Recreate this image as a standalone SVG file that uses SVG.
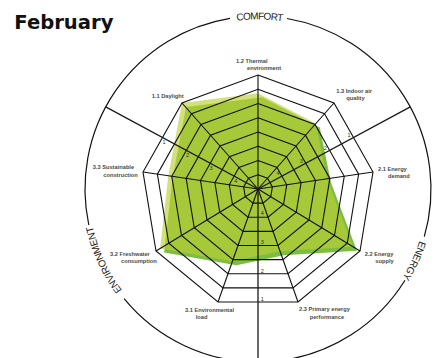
<svg xmlns="http://www.w3.org/2000/svg" width="438" height="358" viewBox="0 0 438 358">
<style>
.ring{fill:none;stroke:#111}
.spoke{stroke:#111;stroke-width:1.1}
.sep{stroke:#1a1a1a;stroke-width:1.3}
.circ{fill:none;stroke:#111;stroke-width:1.2}
.lbl{font-family:"Liberation Sans",Arial,sans-serif;font-size:5.7px;font-weight:bold;fill:#4a4a4a}
.num{font-family:"Liberation Sans",Arial,sans-serif;font-size:5.5px;fill:#333;text-anchor:middle}
.sector{font-family:"Liberation Sans",Arial,sans-serif;font-size:10px;fill:#222;text-anchor:middle}
.title{font-family:"DejaVu Sans",sans-serif;font-weight:bold;font-size:19.6px;fill:#111}
</style>
<defs>
<polygon id="ring" points="0,-114 76,-86 115,-17 102,62 40,113 -40,113 -102,62 -115,-17 -76,-86"/>
<path id="pComfort" d="M174.8,41.3 A169.5,169.5 0 0 1 344.3,43.1"/>
<path id="pEnergy" d="M426.8,173.3 A169.5,169.5 0 0 1 356,327.3"/>
<path id="pEnv" d="M160,327.3 A169.5,169.5 0 0 1 89.2,173.3"/>
</defs>
<rect width="438" height="358" fill="#fff"/>
<g id="title"><text class="title" x="14.3" y="29.3">February</text></g>
<g id="data">
<polygon points="262,97.2 319.8,127.6 331,182.8 356.9,250.7 284,255.2 236.4,265.3 164.1,252.5 172.3,179.7 186,107" fill="#7dbe41"/>
<polygon points="258,93.2 315.8,123.6 327,178.8 352.9,246.7 280,251.2 232.4,261.3 160.1,248.5 168.3,175.7 182,103" fill="#bccf35" fill-opacity="0.65"/>
</g>
<g id="grid">
<use href="#ring" class="ring" transform="translate(258 189) scale(0.125)" stroke-width="8.8"/>
<use href="#ring" class="ring" transform="translate(258 189) scale(0.25)" stroke-width="4.4"/>
<use href="#ring" class="ring" transform="translate(258 189) scale(0.375)" stroke-width="2.933"/>
<use href="#ring" class="ring" transform="translate(258 189) scale(0.5)" stroke-width="2.2"/>
<use href="#ring" class="ring" transform="translate(258 189) scale(0.625)" stroke-width="1.76"/>
<use href="#ring" class="ring" transform="translate(258 189) scale(0.75)" stroke-width="1.467"/>
<use href="#ring" class="ring" transform="translate(258 189) scale(0.875)" stroke-width="1.257"/>
<use href="#ring" class="ring" transform="translate(258 189)" stroke-width="1.1"/>
</g>
<g id="connectors">
<line class="spoke" x1="258" y1="189" x2="258" y2="75"/>
<line class="spoke" x1="258" y1="189" x2="334" y2="103"/>
<line class="spoke" x1="258" y1="189" x2="373" y2="172"/>
<line class="spoke" x1="258" y1="189" x2="360" y2="251"/>
<line class="spoke" x1="258" y1="189" x2="298" y2="302"/>
<line class="spoke" x1="258" y1="189" x2="218" y2="302"/>
<line class="spoke" x1="258" y1="189" x2="156" y2="251"/>
<line class="spoke" x1="258" y1="189" x2="143" y2="172"/>
<line class="spoke" x1="258" y1="189" x2="182" y2="103"/>
<line class="sep" x1="258" y1="189" x2="105.7" y2="106.9"/>
<line class="sep" x1="258" y1="189" x2="410.3" y2="106.9"/>
<line class="sep" x1="258" y1="189" x2="258" y2="362"/>
</g>
<g id="outer-circle">
<path class="circ" d="M287,18.5 A173,173 0 0 1 424.3,236.7"/>
<path class="circ" d="M405,280.2 A173,173 0 0 1 124.1,298.6"/>
<path class="circ" d="M88.8,225 A173,173 0 0 1 230,18.3"/>
</g>
<g id="sector-comfort"><text class="sector"><textPath href="#pComfort" startOffset="50%" textLength="46">COMFORT</textPath></text></g>
<g id="sector-energy"><text class="sector"><textPath href="#pEnergy" startOffset="50%" textLength="41">ENERGY</textPath></text></g>
<g id="sector-environment"><text class="sector"><textPath href="#pEnv" startOffset="50%" textLength="71">ENVIRONMENT</textPath></text></g>
<g id="axis-1-2"><text class="lbl" x="236" y="62.5">1.2 Thermal</text><text class="lbl" x="247" y="69.5">environment</text></g>
<g id="axis-1-3"><text class="lbl" x="336.3" y="92.5">1.3 Indoor air</text><text class="lbl" x="346.3" y="99.5">quality</text></g>
<g id="axis-2-1"><text class="lbl" x="378" y="170.7">2.1 Energy</text><text class="lbl" x="388" y="178">demand</text></g>
<g id="axis-2-2"><text class="lbl" x="364.7" y="256">2.2 Energy</text><text class="lbl" x="375.3" y="262.8">supply</text></g>
<g id="axis-2-3"><text class="lbl" x="299" y="311.3">2.3 Primary energy</text><text class="lbl" x="309.7" y="319">performance</text></g>
<g id="axis-3-1"><text class="lbl" x="185" y="311.8">3.1 Environmental</text><text class="lbl" x="195.7" y="319">load</text></g>
<g id="axis-3-2"><text class="lbl" x="110" y="256">3.2 Freshwater</text><text class="lbl" x="121" y="263.3">consumption</text></g>
<g id="axis-3-3"><text class="lbl" x="92.7" y="169">3.3 Sustainable</text><text class="lbl" x="103.3" y="177">construction</text></g>
<g id="axis-1-1"><text class="lbl" x="151.7" y="98">1.1 Daylight</text></g>
<g id="scale">
<text class="num" x="164" y="144">1</text><text class="num" x="187.5" y="157">2</text><text class="num" x="211" y="169.7">3</text><text class="num" x="235.7" y="183">4</text>
<text class="num" x="349" y="137">1</text><text class="num" x="325.3" y="150.3">2</text><text class="num" x="301.3" y="163">3</text><text class="num" x="278" y="175.3">4</text>
<text class="num" x="262.3" y="301">1</text><text class="num" x="262.3" y="272.7">2</text><text class="num" x="262.3" y="244.3">3</text><text class="num" x="262.3" y="214.7">4</text>
</g>
</svg>
